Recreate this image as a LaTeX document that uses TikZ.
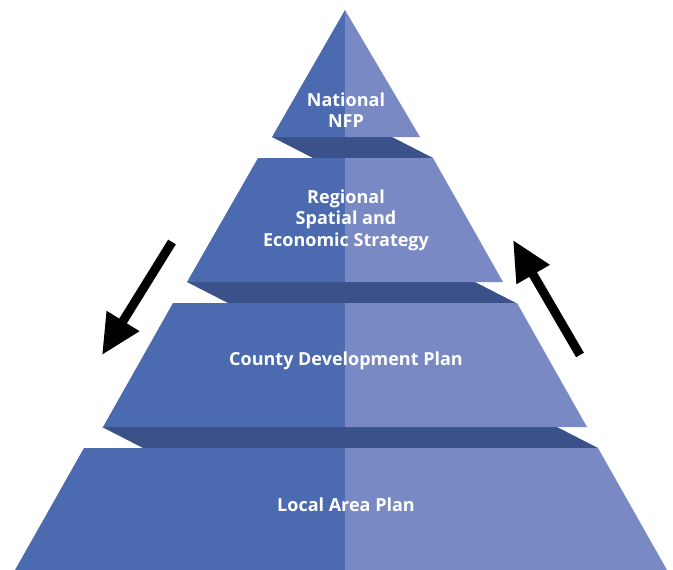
\documentclass[tikz,border=0pt]{standalone}
\usepackage{fontspec}
\setmainfont{Open Sans}
\usetikzlibrary{arrows.meta}
\definecolor{tierdark}{RGB}{75,106,176}
\definecolor{tierlight}{RGB}{121,137,196}
\definecolor{tierband}{RGB}{58,81,137}

\begin{document}
\begin{tikzpicture}[x=1pt, y=-1pt,
    lhalf/.style = {fill=tierdark},
    rhalf/.style = {fill=tierlight},
    band/.style = {fill=tierband},
    tiertext/.style = {text=white, font=\fontsize{18}{21.5}\selectfont\bfseries, align=center},
    flow/.style = {line width=9pt, -{Triangle[length=40pt, width=36pt]}}]
    \useasboundingbox (0,0) rectangle (673,570);
    % bands between the tiers
    \fill[band] (272,137) -- (392,137) -- (433,158) -- (313,158) -- cycle;
    \fill[band] (187,282) -- (475,282) -- (516,303) -- (228,303) -- cycle;
    \fill[band] (102,427) -- (557,427) -- (598,448) -- (143,448) -- cycle;
    % tiers, left and right halves
    \fill[lhalf] (345,10) -- (272,137) -- (345,137) -- cycle;
    \fill[rhalf] (345,10) -- (420,137) -- (345,137) -- cycle;
    \fill[lhalf] (258,158) -- (345,158) -- (345,282) -- (187,282) -- cycle;
    \fill[rhalf] (345,158) -- (433,158) -- (503,282) -- (345,282) -- cycle;
    \fill[lhalf] (173,303) -- (345,303) -- (345,427) -- (103,427) -- cycle;
    \fill[rhalf] (345,303) -- (517,303) -- (587,427) -- (345,427) -- cycle;
    \fill[lhalf] (84,448) -- (345,448) -- (345,570) -- (15,570) -- cycle;
    \fill[rhalf] (345,448) -- (598,448) -- (667,570) -- (345,570) -- cycle;
    % labels
    \node[tiertext] (nat) at (346,110) {National\\NFP};
    \node[tiertext] (reg) at (346,220) {Regional\\Spatial and\\Economic Strategy};
    \node[tiertext] (cty) at (346,361) {County Development Plan};
    \node[tiertext] (lap) at (346,505) {Local Area Plan};
    % arrows
    \coordinate (down-a) at (172,242);
    \coordinate (down-b) at (102,355);
    \coordinate (up-a) at (580,355);
    \coordinate (up-b) at (513,240);
    \draw[flow] (down-a) -- (down-b);
    \draw[flow] (up-a) -- (up-b);
\end{tikzpicture}
\end{document}
